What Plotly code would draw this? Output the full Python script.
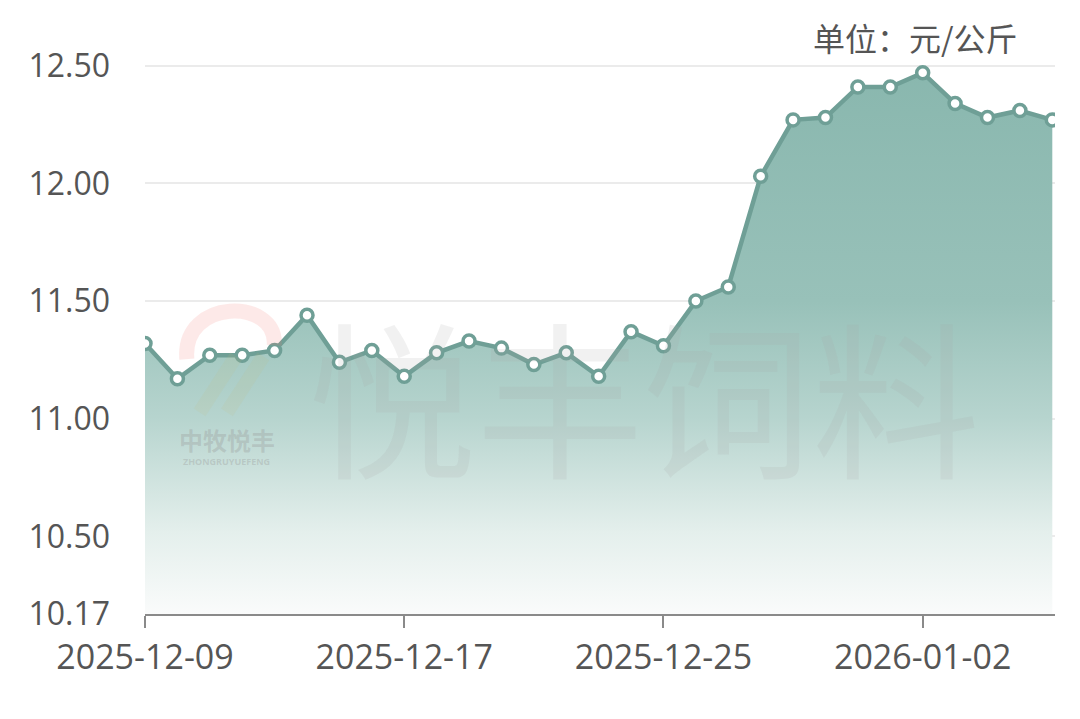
import plotly.graph_objects as go

dates = [
    "2025-12-09", "2025-12-10", "2025-12-11", "2025-12-12", "2025-12-13",
    "2025-12-14", "2025-12-15", "2025-12-16", "2025-12-17", "2025-12-18",
    "2025-12-19", "2025-12-20", "2025-12-21", "2025-12-22", "2025-12-23",
    "2025-12-24", "2025-12-25", "2025-12-26", "2025-12-27", "2025-12-28",
    "2025-12-29", "2025-12-30", "2025-12-31", "2026-01-01", "2026-01-02",
    "2026-01-03", "2026-01-04", "2026-01-05", "2026-01-06",
]
prices = [
    11.32, 11.17, 11.27, 11.27, 11.29, 11.44, 11.24, 11.29, 11.18, 11.28,
    11.33, 11.30, 11.23, 11.28, 11.18, 11.37, 11.31, 11.50, 11.56, 12.03,
    12.27, 12.28, 12.41, 12.41, 12.47, 12.34, 12.28, 12.31, 12.27,
]
y_ticks = [10.17, 10.50, 11.00, 11.50, 12.00, 12.50]
y_tick_text = ["10.17", "10.50", "11.00", "11.50", "12.00", "12.50"]
x_ticks = ["2025-12-09", "2025-12-17", "2025-12-25", "2026-01-02"]
unit_text = "单位：元/公斤"
watermark = "悦丰饲料"
logo_cn = "中牧悦丰"
logo_en = "ZHONGRUYUEFENG"

fig = go.Figure()
fig.add_trace(go.Scatter(
    x=dates, y=prices, mode="lines+markers",
    line=dict(color="#6f9f96", width=4.5),
    marker=dict(size=12, color="white", line=dict(color="#6f9f96", width=3.5)),
    fill="tozeroy",
    fillgradient=dict(
        type="vertical",
        start=10.17, stop=12.5,
        colorscale=[
            [0.0, "rgba(250,251,251,1)"],
            [0.15, "rgba(228,239,236,1)"],
            [0.36, "rgba(182,212,206,1)"],
            [0.57, "rgba(152,193,185,1)"],
            [1.0, "rgba(137,183,174,1)"],
        ],
    ),
    hoverinfo="x+y",
    showlegend=False,
))

fig.update_layout(
    width=1080, height=719,
    margin=dict(l=145, r=25, t=54, b=105),
    paper_bgcolor="white", plot_bgcolor="white",
    font=dict(family="Open Sans, Noto Sans, sans-serif", color="#555555"),
    xaxis=dict(
        type="date",
        range=["2025-12-09", "2026-01-06 02:00"],
        tickvals=x_ticks, ticktext=x_ticks,
        ticks="outside", ticklen=12, tickwidth=2, tickcolor="#8a8a8a",
        showline=True, linecolor="#8a8a8a", linewidth=2,
        showgrid=False, zeroline=False,
        tickfont=dict(family="Open Sans, Noto Sans, sans-serif",
                      size=34, color="#555555"),
    ),
    yaxis=dict(
        range=[10.17, 12.55],
        tickvals=y_ticks, ticktext=y_tick_text,
        showgrid=True, gridcolor="#ebebeb", gridwidth=2,
        zeroline=False, showline=False, ticks="",
        ticklabelstandoff=34,
        tickfont=dict(family="Open Sans, Noto Sans, sans-serif", size=32, color="#555555"),
    ),
    annotations=[
        dict(text=unit_text, xref="paper", yref="paper", x=0.9615, y=1.03,
             xanchor="right", yanchor="middle", showarrow=False,
             font=dict(size=32, color="#555555",
                       family="Noto Sans CJK SC, sans-serif")),
        dict(text=watermark, xref="paper", yref="paper", x=0.548, y=0.395,
             xanchor="center", yanchor="middle", showarrow=False,
             font=dict(size=168, color="rgba(170,170,170,0.16)",
                       family="Noto Sans CJK SC, sans-serif")),
        dict(text="<b>" + logo_cn + "</b>", xref="paper", yref="paper",
             x=0.090, y=0.311, xanchor="center", yanchor="middle",
             showarrow=False,
             font=dict(size=24, color="rgba(150,150,150,0.33)",
                       family="Noto Sans CJK SC, sans-serif")),
        dict(text="<b>" + logo_en + "</b>", xref="paper", yref="paper",
             x=0.090, y=0.273, xanchor="center", yanchor="middle",
             showarrow=False,
             font=dict(size=9, color="rgba(150,150,150,0.33)",
                       family="Noto Sans, sans-serif")),
    ],
    shapes=[
        dict(type="path", xref="paper", yref="paper",
             path="M 0.046,0.455 C 0.04,0.565 0.146,0.565 0.142,0.48",
             line=dict(color="rgba(240,120,110,0.16)", width=15)),
        dict(type="path", xref="paper", yref="paper",
             path="M 0.06,0.36 L 0.10,0.46 M 0.09,0.36 L 0.13,0.46",
             line=dict(color="rgba(200,190,120,0.12)", width=14)),
    ],
)

fig.write_html("out.html", config={"displayModeBar": False},
               post_script="document.body.style.margin='0';document.body.style.overflow='hidden';")
